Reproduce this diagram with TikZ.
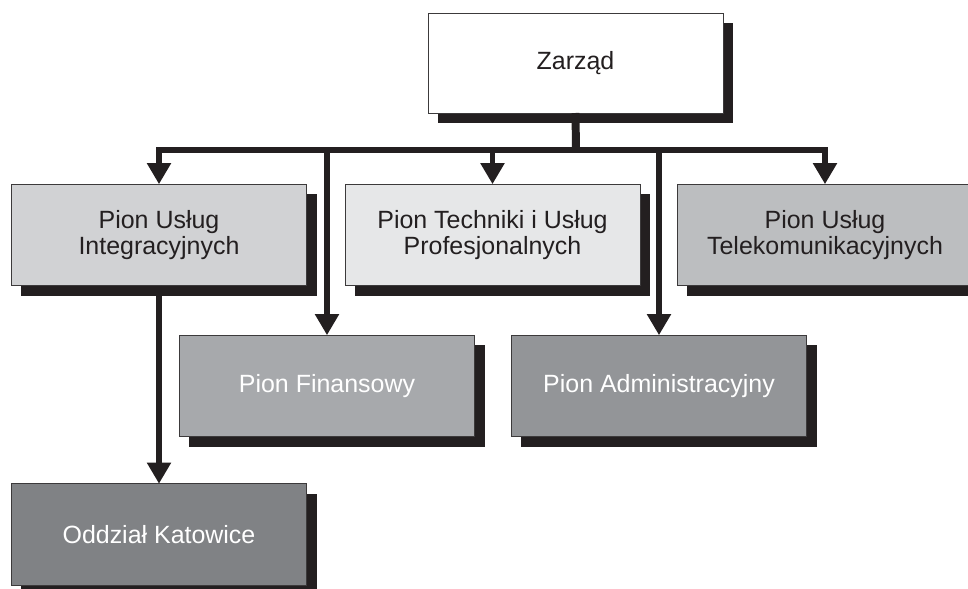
\documentclass[tikz,border=0pt]{standalone}
\usepackage{fontspec}
\setmainfont{Liberation Sans}
\usetikzlibrary{arrows.meta,shadows}
\definecolor{schatten}{RGB}{35,31,32}
\definecolor{rand}{RGB}{60,58,59}
\definecolor{grauA}{RGB}{209,210,212}
\definecolor{grauB}{RGB}{230,231,232}
\definecolor{grauC}{RGB}{188,190,192}
\definecolor{grauD}{RGB}{167,169,172}
\definecolor{grauE}{RGB}{147,149,152}
\definecolor{grauF}{RGB}{128,130,133}

\tikzset{
  pion/.style={draw=rand, line width=0.8pt, text=schatten, align=center,
    minimum width=8.85cm, minimum height=3.05cm, inner sep=0pt, outer sep=0pt,
    font=\fontsize{21.3}{22.2}\selectfont,
    drop shadow={shadow xshift=0.3cm, shadow yshift=-0.3cm, fill=schatten, opacity=1}},
  hell/.style={pion, text=white},
  linie/.style={schatten, line width=4.3pt},
  pfeilspitze/.style={linie, -{Triangle[width=0.69cm,length=0.63cm]}}
}

\begin{document}
\begin{tikzpicture}[x=0.03cm, y=-0.03cm]
    \useasboundingbox (0,0) rectangle (968,589);

    \node[pion, fill=white, minimum height=3cm] (zarzad) at (575.5,63) {Zarząd};

    \node[pion, fill=grauA] (integr) at (159,235) {Pion Usług\\Integracyjnych};
    \node[pion, fill=grauB] (techniki) at (492.5,235) {Pion Techniki i Usług\\Profesjonalnych};
    \node[pion, fill=grauC] (telekom) at (825,235) {Pion Usług\\Telekomunikacyjnych};

    \node[hell, fill=grauD] (finanse) at (327,386) {Pion Finansowy};
    \node[hell, fill=grauE] (admin) at (659,386) {Pion Administracyjny};

    \node[hell, fill=grauF] (katowice) at (159,534.5) {Oddział Katowice};

    % Stamm und Verteiler
    \coordinate (bus) at (576,150);
    \draw[schatten, line width=6.8pt] (zarzad.south) -- (bus);
    \draw[linie] (integr.north |- bus) -- (telekom.north |- bus);

    \foreach \ziel in {integr, techniki, telekom, finanse, admin}
        \draw[pfeilspitze] (bus) -| (\ziel.north);

    \draw[pfeilspitze] (integr.south) -- (katowice.north);

\end{tikzpicture}
\end{document}
